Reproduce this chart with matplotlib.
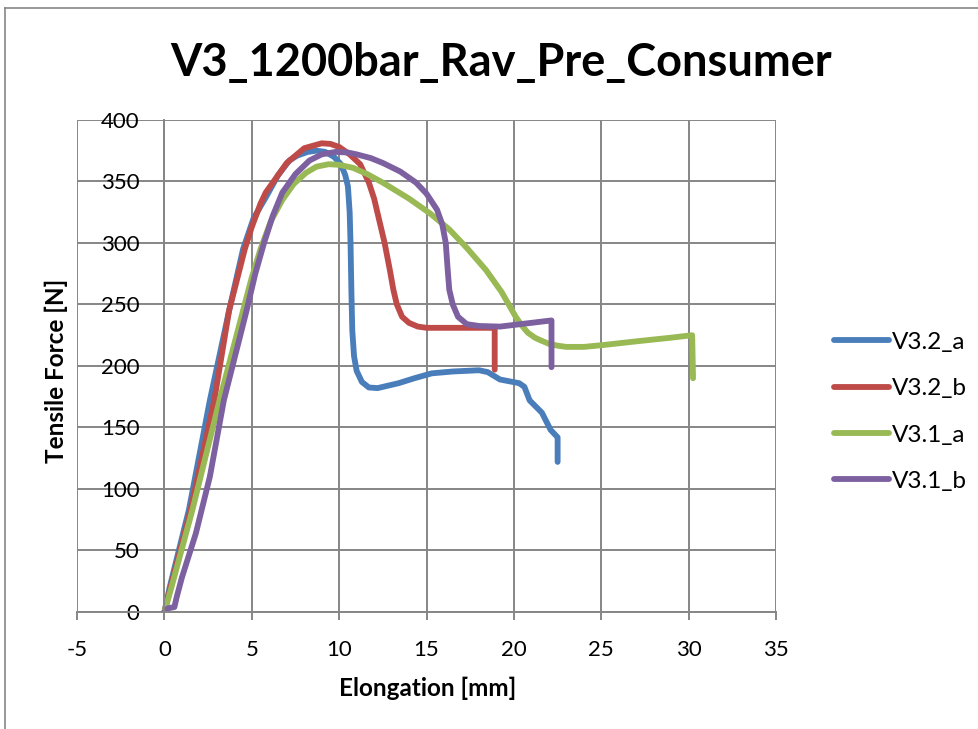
import matplotlib.pyplot as plt
from matplotlib.lines import Line2D

# tensile test curves
a32_x = [0, 0.3, 1.4, 2.6, 3.7, 4.5, 5.1, 5.8, 6.5, 7.15, 7.6, 8.2, 8.7, 9.2, 9.7, 10.1, 10.35, 10.5,
         10.6, 10.65, 10.7, 10.75, 10.85, 11.0, 11.3, 11.7, 12.2, 12.8, 13.4, 14.3, 15.3, 16.5, 18.0,
         18.5, 19.2, 20.3, 20.6, 20.9, 21.6, 22.1, 22.5, 22.5]
a32_y = [0, 20, 83, 172, 245, 295, 320, 337, 355, 367, 371, 374, 375, 374, 370, 364, 355, 346,
         325, 300, 260, 229, 208, 196, 187, 182.5, 182, 184, 186, 190, 194, 195.5, 196.5,
         195, 189, 186, 183, 172, 162, 148, 142, 122]

b32_x = [0, 0.35, 1.5, 2.85, 3.7, 4.6, 5.0, 5.5, 5.8, 6.0, 7.0, 8.0, 9.0, 9.5, 10.0, 10.6, 11.2,
         11.7, 12.0, 12.3, 12.6, 12.9, 13.1, 13.3, 13.6, 14.0, 14.5, 15.0, 17.0, 18.9, 18.9]
b32_y = [0, 20, 83, 172, 245, 295, 313, 332, 341, 345, 365, 377, 381, 380.5, 378, 372, 364,
         349, 336, 318, 300, 278, 262, 250, 240, 235, 232, 231, 231, 231, 197]

a31_x = [0, 0.4, 1.6, 3.15, 4.5, 5.0, 5.5, 6.1, 6.75, 7.4, 8.1, 8.7, 9.4, 10.0, 10.8, 11.6, 12.5,
         14.0, 15.2, 16.3, 17.3, 18.4, 19.3, 19.7, 20.1, 20.5, 20.8, 21.2, 21.5, 22.0, 22.5, 23.0,
         24.0, 25.1, 27.0, 29.0, 30.2, 30.25]
a31_y = [0, 20, 83, 172, 245, 272, 295, 318, 335, 348, 357, 362, 364, 363.5, 361, 356, 349,
         336, 324, 311, 296, 278, 260, 250, 240, 232, 227, 223, 221, 218, 216.5, 215.5,
         215.5, 217, 220, 223, 225, 190]

b31_x = [0, 0.2, 0.57, 0.7, 1.0, 1.8, 2.6, 3.4, 4.7, 5.2, 5.7, 6.2, 6.75, 7.5, 8.3, 9.0, 9.8, 10.5,
         11.0, 11.8, 12.5, 13.5, 14.4, 15.0, 15.6, 15.9, 16.1, 16.2, 16.3, 16.5, 16.8, 17.3, 18.0,
         19.2, 22.15, 22.15]
b31_y = [0, 3, 4, 12, 28, 64, 110, 172, 245, 275, 300, 322, 341, 356, 367, 372, 374, 373.5,
         372, 369, 365, 358, 349, 340, 327, 315, 300, 280, 262, 250, 240, 234, 232.5,
         232, 237, 199]

names = ['V3.2_a', 'V3.2_b', 'V3.1_a', 'V3.1_b']
colors = ['#4A7EBB', '#BE4B48', '#98B954', '#7D60A0']

plt.rcParams['font.family'] = ['Lato', 'DejaVu Sans']
plt.rcParams['axes.unicode_minus'] = False

fig = plt.figure(figsize=(9.79, 7.29), dpi=100)
ax = fig.add_axes([0.0787, 0.1605, 0.714, 0.675])

series = [(a32_x, a32_y), (b32_x, b32_y), (a31_x, a31_y), (b31_x, b31_y)]
for (xs, ys), name, c in zip(series, names, colors):
    ax.plot(xs, ys, color=c, lw=4.2, label=name, solid_joinstyle='round', solid_capstyle='round')

ax.set_xlim(-5, 35)
ax.set_ylim(0, 400)
ax.set_xticks(range(-5, 36, 5))
ax.set_yticks(range(0, 401, 50))
ax.grid(True, color='#868686', lw=1.4)
ax.set_axisbelow(True)

for s in ['top', 'right']:
    ax.spines[s].set_visible(False)
ax.spines['left'].set_position(('data', 0))
ax.spines['left'].set_color('#868686')
ax.spines['bottom'].set_color('#868686')
ax.spines['left'].set_linewidth(1.4)
ax.spines['bottom'].set_linewidth(1.4)

ax.tick_params(axis='y', length=0, pad=18, labelsize=16)
ax.tick_params(axis='x', length=6, width=1.4, color='#868686', pad=14, labelsize=16)

ax.set_xlabel('Elongation [mm]', fontsize=17.5, fontweight='bold')
ax.set_ylabel('Tensile Force [N]', fontsize=17.5, fontweight='bold')
ax.xaxis.set_label_coords(0.502, -0.132)
ax.yaxis.set_label_coords(-0.013, 0.49)

fig.suptitle('V3_1200bar_Rav_Pre_Consumer', fontsize=32.5, fontweight='bold', x=0.512, y=0.942)

fig.legend(loc='center left', bbox_to_anchor=(0.83, 0.435), frameon=False, fontsize=17.5,
           handlelength=2.26, handletextpad=0.1, labelspacing=1.04)

# chart area border (only top and left edges show in the crop)
fig.add_artist(Line2D([5 / 979, 5 / 979], [0, 1 - 8 / 729], color='#868686', lw=1.2))
fig.add_artist(Line2D([5 / 979, 1], [1 - 8 / 729, 1 - 8 / 729], color='#868686', lw=1.2))

fig.savefig('out.png', dpi=100)
